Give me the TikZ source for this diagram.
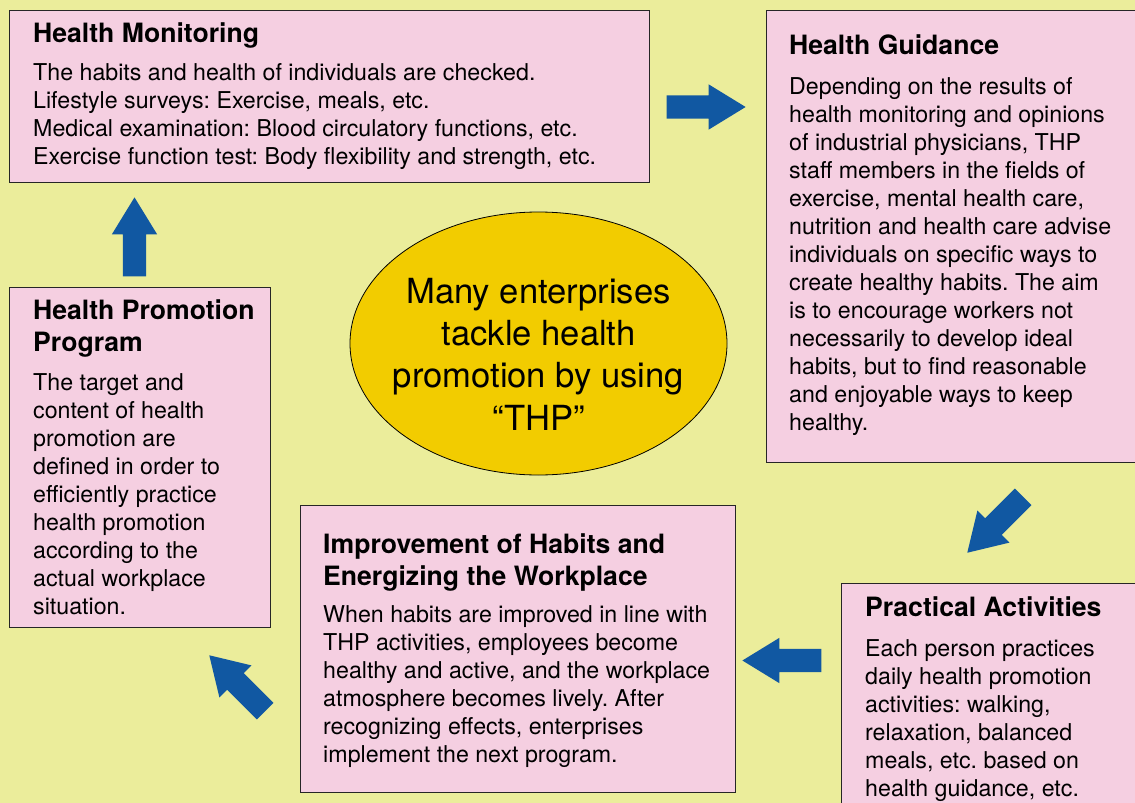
\documentclass[tikz,border=0pt]{standalone}
\usepackage{fontspec}
\setmainfont{TeX Gyre Heros}
\frenchspacing
\usetikzlibrary{shapes.geometric,shapes.arrows,positioning,calc}
\definecolor{bgyellow}{RGB}{235,237,155}
\definecolor{boxpink}{RGB}{245,207,225}
\definecolor{arrowblue}{RGB}{17,88,162}
\definecolor{thpgold}{RGB}{242,204,0}
\tikzset{
	infobox/.style={
		rectangle, anchor=north west, inner sep=0pt,
		line width=1pt, draw=black!85, fill=boxpink
	},
	%
	boxtitle/.style={
		anchor=base west, inner sep=0pt, align=left,
		font=\fontsize{26.6}{32}\selectfont\bfseries
	},
	%
	boxtext/.style={
		anchor=base west, inner sep=0pt, align=left,
		font=\fontsize{23.2}{28}\selectfont
	},
	%
	bigarrow/.style={
		single arrow, anchor=tip, fill=arrowblue, draw=none,
		inner xsep=0pt, inner ysep=11.5pt, single arrow head extend=11pt,
		single arrow tip angle=63, minimum height=79pt
	}
}
\begin{document}
\begin{tikzpicture}[x=1pt,y=-1pt]
    \useasboundingbox (0,0) rectangle (1135,803);
    \fill[bgyellow] (0,0) rectangle (1135,803);
    % the five steps (text nodes sit on the baseline of their last line)
    \node(hm)[infobox, minimum width=640pt, minimum height=172.5pt] at (9,9.5){};
    \node(hmtitle)[boxtitle] at ([shift={(24,32.5)}]hm.north west){Health Monitoring};
    \node(hmtext)[boxtext] at ([shift={(24,154.5)}]hm.north west){The habits and health of individuals are checked.\\
        Lifestyle surveys: Exercise, meals, etc.\\
        Medical examination: Blood circulatory functions, etc.\\
        Exercise function test: Body flexibility and strength, etc.};
    \node(hg)[infobox, minimum width=380pt, minimum height=452.5pt] at (766,9.5){};
    \node(hgtitle)[boxtitle] at ([shift={(23,45)}]hg.north west){Health Guidance};
    \node(hgtext)[boxtext] at ([shift={(23,420.5)}]hg.north west){Depending on the results of\\
        health monitoring and opinions\\
        of industrial physicians, THP\\
        staff members in the fields of\\
        exercise, mental health care,\\
        nutrition and health care advise\\
        individuals on specific ways to\\
        create healthy habits. The aim\\
        is to encourage workers not\\
        necessarily to develop ideal\\
        habits, but to find reasonable\\
        and enjoyable ways to keep\\
        healthy.};
    \node(pa)[infobox, minimum width=305pt, minimum height=240pt] at (841,583){};
    \node(patitle)[boxtitle] at ([shift={(24,33)}]pa.north west){Practical Activities};
    \node(patext)[boxtext] at ([shift={(24,213)}]pa.north west){Each person practices\\
        daily health promotion\\
        activities: walking,\\
        relaxation, balanced\\
        meals, etc. based on\\
        health guidance, etc.};
    \node(imp)[infobox, minimum width=435pt, minimum height=287pt] at (300,505){};
    \node(imptitle)[boxtitle] at ([shift={(23,80)}]imp.north west){Improvement of Habits and\\
        Energizing the Workplace};
    \node(imptext)[boxtext] at ([shift={(23,257)}]imp.north west){When habits are improved in line with\\
        THP activities, employees become\\
        healthy and active, and the workplace\\
        atmosphere becomes lively. After\\
        recognizing effects, enterprises\\
        implement the next program.};
    \node(hpp)[infobox, minimum width=261pt, minimum height=340pt] at (9,287){};
    \node(hpptitle)[boxtitle] at ([shift={(24,64)}]hpp.north west){Health Promotion\\
        Program};
    \node(hpptext)[boxtext] at ([shift={(24,327)}]hpp.north west){The target and\\
        content of health\\
        promotion are\\
        defined in order to\\
        efficiently practice\\
        health promotion\\
        according to the\\
        actual workplace\\
        situation.};
    % centre
    \node(thp)[ellipse, minimum width=377pt, minimum height=263pt, inner sep=0pt,
        line width=0.8pt, draw=black, fill=thpgold] at (538.5,343.5){};
    \node(thptext)[anchor=base, inner sep=0pt, align=center,
        font=\fontsize{34.6}{42.3}\selectfont] at (538.5,430){Many enterprises\\
        tackle health\\
        promotion by using\\
        ``THP''};
    % cycle arrows
    \node(hmtohg)[bigarrow] at (746,107){};
    \node(hgtopa)[bigarrow, rotate=225] at (967,553){};
    \node(patoimp)[bigarrow, rotate=180] at (742,660.5){};
    \node(imptohpp)[bigarrow, rotate=135] at (209,655){};
    \node(hpptohm)[bigarrow, rotate=90] at (134.5,197){};
\end{tikzpicture}
\end{document}
